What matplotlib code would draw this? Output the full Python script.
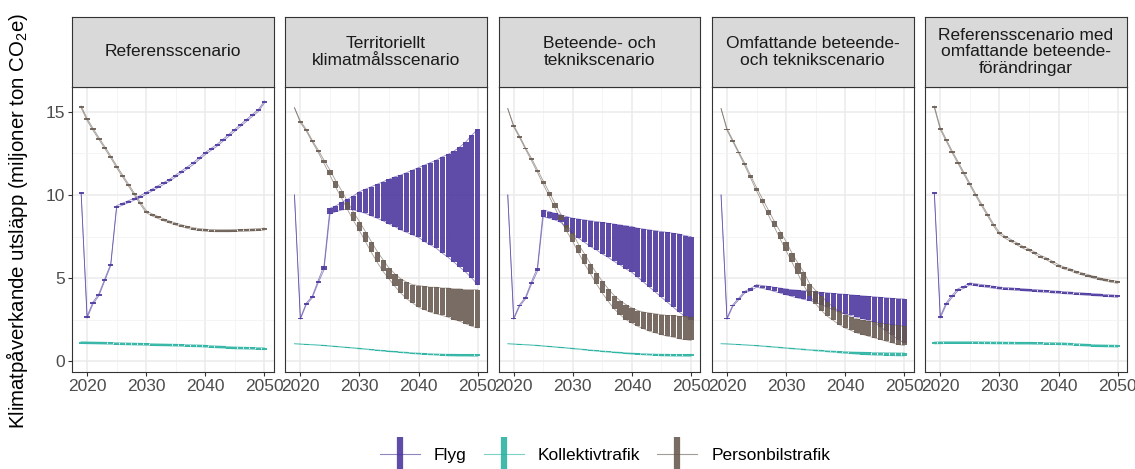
import matplotlib
matplotlib.use("Agg")
import matplotlib.pyplot as plt
from matplotlib.lines import Line2D
import numpy as np

plt.rcParams['font.family'] = ['Liberation Sans', 'DejaVu Sans']
plt.rcParams['mathtext.default'] = 'regular'

years = list(range(2019, 2051))
scenarios = ["Referensscenario",
             "Territoriellt\nklimatmålsscenario",
             "Beteende- och\nteknikscenario",
             "Omfattande beteende-\noch teknikscenario",
             "Referensscenario med\nomfattande beteende-\nförändringar"]
series_names = ["Flyg", "Kollektivtrafik", "Personbilstrafik"]
series_colors = ["#48339c", "#26b1a0", "#66584e"]

# Referensscenario (point values)
ref_flyg = [10.1, 2.65, 3.5, 4.0, 4.9, 5.8, 9.3, 9.45, 9.6, 9.75, 9.9, 10.1,
            10.3, 10.5, 10.7, 10.9, 11.15, 11.4, 11.65, 11.9, 12.2, 12.5,
            12.75, 13.0, 13.3, 13.6, 13.9, 14.2, 14.5, 14.8, 15.1, 15.6]
ref_koll = [1.12, 1.11, 1.1, 1.09, 1.08, 1.07, 1.06, 1.05, 1.04, 1.03, 1.02, 1.01,
            1.0, 0.99, 0.98, 0.97, 0.96, 0.95, 0.94, 0.93, 0.92, 0.9,
            0.88, 0.86, 0.84, 0.82, 0.8, 0.79, 0.78, 0.77, 0.76, 0.75]
ref_bil = [15.3, 14.55, 13.95, 13.4, 12.85, 12.3, 11.7, 11.15, 10.6, 10.05, 9.5, 9.0,
           8.8, 8.65, 8.5, 8.37, 8.25, 8.15, 8.05, 7.97, 7.92, 7.88,
           7.86, 7.85, 7.85, 7.85, 7.86, 7.87, 7.88, 7.9, 7.92, 7.95]

# Referensscenario med omfattande beteendeförändringar (point values)
bref_flyg = [10.1, 2.65, 3.45, 3.9, 4.3, 4.45, 4.65, 4.6, 4.55, 4.5, 4.45, 4.4,
             4.37, 4.35, 4.32, 4.3, 4.27, 4.25, 4.22, 4.2, 4.17, 4.15,
             4.12, 4.1, 4.07, 4.05, 4.02, 4.0, 3.98, 3.95, 3.93, 3.9]
bref_koll = [1.1, 1.11, 1.12, 1.12, 1.12, 1.12, 1.12, 1.12, 1.11, 1.11, 1.1, 1.1,
             1.09, 1.09, 1.08, 1.08, 1.08, 1.07, 1.07, 1.06, 1.06, 1.05,
             1.04, 1.02, 1.0, 0.98, 0.96, 0.94, 0.93, 0.92, 0.91, 0.9]
bref_bil = [15.3, 14.0, 13.3, 12.6, 11.95, 11.3, 10.65, 10.0, 9.4, 8.8, 8.2, 7.7,
            7.45, 7.25, 7.05, 6.85, 6.7, 6.5, 6.3, 6.15, 5.95, 5.75,
            5.6, 5.5, 5.35, 5.25, 5.15, 5.05, 4.95, 4.88, 4.8, 4.75]

# Territoriellt klimatmålsscenario (low / high)
terr_flyg_lo = [10.0, 2.52, 3.4, 3.8, 4.7, 5.5, 8.85, 9.0, 9.1, 9.15, 9.1, 9.0,
                8.9, 8.75, 8.6, 8.45, 8.25, 8.1, 7.9, 7.75, 7.6, 7.45,
                7.2, 7.0, 6.8, 6.5, 6.25, 5.95, 5.65, 5.35, 5.0, 4.6]
terr_flyg_hi = [10.0, 2.6, 3.5, 3.9, 4.85, 5.75, 9.2, 9.35, 9.55, 9.75, 9.95, 10.2,
                10.35, 10.5, 10.65, 10.8, 10.95, 11.1, 11.2, 11.35, 11.5, 11.65,
                11.8, 11.95, 12.1, 12.3, 12.45, 12.65, 12.9, 13.2, 13.6, 13.95]
terr_bil_lo = [15.25, 14.35, 13.85, 13.2, 12.58, 11.9, 11.2, 10.45, 9.8, 9.1, 8.45, 7.85,
               7.2, 6.55, 5.95, 5.4, 4.95, 4.5, 4.1, 3.75, 3.5, 3.25,
               3.1, 2.95, 2.85, 2.75, 2.65, 2.5, 2.4, 2.25, 2.1, 2.0]
terr_bil_hi = [15.25, 14.45, 13.95, 13.3, 12.72, 12.1, 11.5, 10.85, 10.25, 9.6, 8.95, 8.4,
               7.8, 7.2, 6.6, 6.1, 5.6, 5.25, 4.95, 4.75, 4.6, 4.55,
               4.5, 4.45, 4.45, 4.4, 4.4, 4.35, 4.35, 4.3, 4.3, 4.3]
terr_koll_lo = [1.05, 1.02, 1.0, 0.98, 0.96, 0.93, 0.9, 0.87, 0.84, 0.81, 0.78, 0.74,
                0.71, 0.67, 0.64, 0.6, 0.57, 0.54, 0.51, 0.48, 0.45, 0.42,
                0.4, 0.38, 0.36, 0.34, 0.32, 0.31, 0.3, 0.3, 0.29, 0.29]
terr_koll_hi = [1.05, 1.04, 1.02, 1.0, 0.98, 0.96, 0.93, 0.9, 0.87, 0.84, 0.81, 0.78,
                0.75, 0.71, 0.68, 0.65, 0.62, 0.59, 0.56, 0.54, 0.51, 0.49,
                0.47, 0.46, 0.44, 0.43, 0.42, 0.42, 0.41, 0.41, 0.41, 0.41]

# Beteende- och teknikscenario (low / high)
beh_flyg_lo = [10.0, 2.52, 3.3, 3.75, 4.62, 5.4, 8.7, 8.6, 8.5, 8.35, 8.0, 7.65,
               7.4, 7.15, 6.9, 6.7, 6.45, 6.25, 6.0, 5.8, 5.55, 5.35,
               5.05, 4.75, 4.45, 4.15, 3.85, 3.55, 3.25, 2.95, 2.7, 2.5]
beh_flyg_hi = [10.0, 2.6, 3.4, 3.85, 4.78, 5.6, 9.1, 9.0, 8.9, 8.8, 8.7, 8.6,
               8.55, 8.5, 8.45, 8.4, 8.35, 8.3, 8.25, 8.2, 8.15, 8.1,
               8.0, 7.95, 7.9, 7.85, 7.8, 7.75, 7.7, 7.65, 7.55, 7.5]
beh_bil_lo = [15.2, 14.1, 13.45, 12.75, 12.08, 11.37, 10.65, 9.93, 9.2, 8.48, 7.8, 7.2,
              6.5, 5.85, 5.25, 4.65, 4.1, 3.6, 3.15, 2.8, 2.5, 2.3,
              2.1, 1.95, 1.8, 1.7, 1.6, 1.5, 1.45, 1.35, 1.3, 1.25]
beh_bil_hi = [15.2, 14.2, 13.55, 12.85, 12.22, 11.53, 10.85, 10.17, 9.5, 8.82, 8.2, 7.7,
              7.0, 6.45, 5.85, 5.3, 4.8, 4.35, 3.95, 3.65, 3.4, 3.2,
              3.05, 2.95, 2.9, 2.85, 2.8, 2.75, 2.75, 2.7, 2.7, 2.65]
beh_koll_lo = terr_koll_lo
beh_koll_hi = terr_koll_hi

# Omfattande beteende- och teknikscenario (low / high)
omf_flyg_lo = [10.0, 2.52, 3.3, 3.7, 4.1, 4.25, 4.45, 4.38, 4.3, 4.2, 4.1, 4.0,
               3.9, 3.8, 3.72, 3.65, 3.55, 3.4, 3.25, 3.1, 2.95, 2.85,
               2.75, 2.65, 2.55, 2.45, 2.35, 2.05, 1.8, 1.55, 1.3, 1.1]
omf_flyg_hi = [10.0, 2.6, 3.4, 3.8, 4.2, 4.38, 4.6, 4.55, 4.5, 4.45, 4.4, 4.35,
               4.3, 4.27, 4.24, 4.2, 4.17, 4.14, 4.11, 4.08, 4.05, 4.02,
               3.99, 3.96, 3.93, 3.9, 3.87, 3.84, 3.81, 3.78, 3.76, 3.74]
omf_bil_lo = [15.2, 13.9, 13.2, 12.5, 11.78, 11.02, 10.25, 9.53, 8.8, 8.08, 7.35, 6.65,
              5.95, 5.25, 4.55, 3.95, 3.45, 3.05, 2.7, 2.45, 2.2, 2.0,
              1.85, 1.7, 1.6, 1.5, 1.4, 1.3, 1.2, 1.1, 1.0, 0.95]
omf_bil_hi = [15.2, 14.0, 13.3, 12.6, 11.92, 11.18, 10.45, 9.77, 9.1, 8.42, 7.8, 7.2,
              6.5, 5.9, 5.35, 4.65, 4.25, 3.9, 3.55, 3.25, 3.0, 2.8,
              2.65, 2.55, 2.45, 2.4, 2.35, 2.3, 2.25, 2.2, 2.15, 2.1]
omf_koll_lo = [1.05, 1.03, 1.01, 0.99, 0.97, 0.95, 0.92, 0.89, 0.86, 0.83, 0.8, 0.77,
               0.74, 0.71, 0.68, 0.65, 0.62, 0.59, 0.56, 0.53, 0.5, 0.47,
               0.45, 0.42, 0.4, 0.38, 0.36, 0.35, 0.34, 0.33, 0.32, 0.32]
omf_koll_hi = [1.05, 1.05, 1.03, 1.01, 0.99, 0.97, 0.95, 0.92, 0.9, 0.87, 0.84, 0.81,
               0.78, 0.76, 0.73, 0.7, 0.68, 0.66, 0.63, 0.61, 0.59, 0.58,
               0.56, 0.55, 0.54, 0.53, 0.52, 0.52, 0.51, 0.51, 0.5, 0.5]

cap = 0.06  # half height of the tick drawn for point values


def point_range(vals):
    v = np.array(vals)
    return v - cap, v + cap


panel_data = [
    [point_range(ref_flyg), point_range(ref_koll), point_range(ref_bil)],
    [(terr_flyg_lo, terr_flyg_hi), (terr_koll_lo, terr_koll_hi), (terr_bil_lo, terr_bil_hi)],
    [(beh_flyg_lo, beh_flyg_hi), (beh_koll_lo, beh_koll_hi), (beh_bil_lo, beh_bil_hi)],
    [(omf_flyg_lo, omf_flyg_hi), (omf_koll_lo, omf_koll_hi), (omf_bil_lo, omf_bil_hi)],
    [point_range(bref_flyg), point_range(bref_koll), point_range(bref_bil)],
]

W, H = 1135, 469
fig = plt.figure(figsize=(W / 100, H / 100), dpi=100)

left0, pw, gap = 72, 201.6, 11.7
strip_top, panel_top, panel_bot = 17, 87, 372
fs = 12.5

for i, (title, data) in enumerate(zip(scenarios, panel_data)):
    x0 = left0 + i * (pw + gap)
    ax = fig.add_axes([x0 / W, 1 - panel_bot / H, pw / W, (panel_bot - panel_top) / H])
    sax = fig.add_axes([x0 / W, 1 - panel_top / H, pw / W, (panel_top - strip_top) / H])

    sax.set_facecolor('#d9d9d9')
    sax.set_xticks([])
    sax.set_yticks([])
    for s in sax.spines.values():
        s.set_color('#333333')
        s.set_linewidth(0.8)
    sax.text(0.5, 0.5, title, ha='center', va='center', fontsize=fs,
             color='#1a1a1a', linespacing=1.1, transform=sax.transAxes)

    # thin lines along the low and high values, under the ranges
    for k in [2, 0, 1]:
        lo, hi = np.array(data[k][0], dtype=float), np.array(data[k][1], dtype=float)
        for edge in (lo, hi):
            ax.plot(years, edge, color=series_colors[k], lw=0.6, alpha=0.6, zorder=2)
    for k in [0, 2, 1]:
        lo, hi = np.array(data[k][0], dtype=float), np.array(data[k][1], dtype=float)
        h = hi - lo
        mask = h > 0
        ax.bar(np.array(years)[mask], h[mask], bottom=lo[mask], width=0.88,
               color=series_colors[k], alpha=0.88, linewidth=0, zorder=3)

    ax.set_xlim(2017.45, 2051.55)
    ax.set_ylim(-0.65, 16.5)
    ax.set_xticks([2020, 2030, 2040, 2050])
    ax.set_xticks([2025, 2035, 2045], minor=True)
    ax.set_yticks([0, 5, 10, 15])
    ax.set_yticks([2.5, 7.5, 12.5], minor=True)
    ax.grid(which='major', color='#ebebeb', lw=1.1, zorder=0)
    ax.grid(which='minor', color='#f2f2f2', lw=0.6, zorder=0)
    ax.set_axisbelow(True)
    for s in ax.spines.values():
        s.set_color('#333333')
        s.set_linewidth(0.8)
    ax.tick_params(which='major', length=3, width=0.8, color='#333333',
                   labelcolor='#4d4d4d', labelsize=fs, pad=2)
    ax.tick_params(which='minor', length=0)
    if i > 0:
        ax.tick_params(axis='y', length=0, labelleft=False)

fig.text(17 / W, 1 - 221 / H,
         'Klimatpåverkande utsläpp (miljoner ton CO$_2$e)',
         rotation=90, ha='center', va='center', fontsize=14.7, color='black')

handles = []
for c in series_colors:
    h_line = Line2D([], [], color=c, lw=0.8, alpha=0.6)
    h_bar = Line2D([], [], color=c, lw=0, marker='|', markersize=24,
                   markeredgewidth=4.5, alpha=0.88)
    handles.append((h_line, h_bar))
fig.legend(handles, series_names, loc='center', bbox_to_anchor=(605 / W, 1 - 455 / H),
           ncol=3, frameon=False, fontsize=fs, handlelength=2.3,
           columnspacing=1.0, handletextpad=0.8)

fig.savefig('out.png', dpi=100)
